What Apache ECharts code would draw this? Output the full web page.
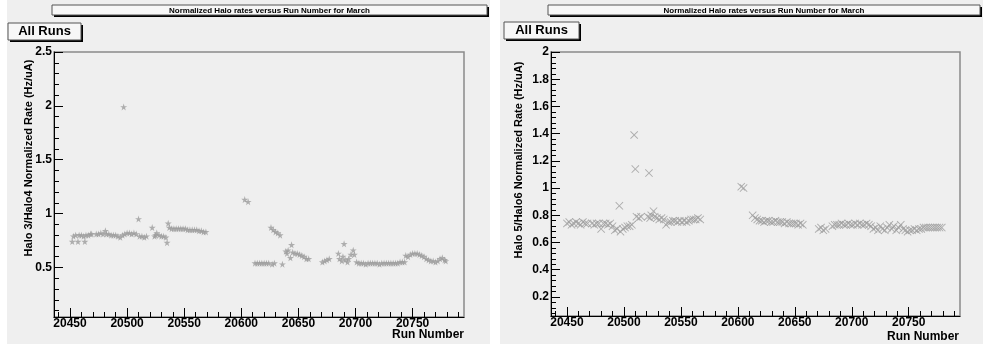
<!DOCTYPE html>
<html>
<head>
<meta charset="utf-8">
<script src="https://cdn.jsdelivr.net/npm/echarts@6/dist/echarts.min.js"></script>
<style>
  html, body { margin: 0; padding: 0; background: #fff; }
  #chart { width: 983px; height: 349px; }
</style>
</head>
<body>
<div id="chart"></div>
<script>
// run range shared by both panels
const runMin = 20436;
const runMax = 20795;
const runTicks = [20450, 20500, 20550, 20600, 20650, 20700, 20750];
const rate34Ticks = [0.5, 1, 1.5, 2, 2.5];
const rate56Ticks = [0.2, 0.4, 0.6, 0.8, 1, 1.2, 1.4, 1.6, 1.8, 2];

const titleText = 'Normalized Halo rates versus Run Number for March';
const panelLabel = 'All Runs';
const xName = 'Run Number';
const yName34 = 'Halo 3/Halo4 Normalized Rate (Hz/uA)';
const yName56 = 'Halo 5/Halo6 Normalized Rate (Hz/uA)';

// [run, rate]
const halo34 = [
  [20452,0.74],[20453,0.79],[20455,0.80],[20457,0.74],[20458,0.80],[20460,0.80],[20462,0.79],[20463,0.74],[20464,0.80],[20466,0.80],[20468,0.81],[20469,0.81],
  [20473,0.81],[20475,0.81],[20477,0.82],[20479,0.81],[20481,0.84],[20482,0.81],[20484,0.81],[20486,0.80],[20488,0.80],[20490,0.80],[20492,0.79],[20494,0.78],
  [20496,0.80],[20497,1.99],[20498,0.81],[20500,0.82],[20502,0.82],[20504,0.81],[20506,0.82],[20508,0.81],[20510,0.95],[20511,0.79],[20513,0.79],[20515,0.78],[20517,0.79],
  [20522,0.87],[20524,0.79],[20525,0.80],[20526,0.82],[20528,0.80],[20530,0.79],[20532,0.79],[20534,0.78],[20535,0.73],[20536,0.91],[20537,0.87],[20539,0.86],
  [20541,0.86],[20543,0.86],[20545,0.86],[20547,0.86],[20549,0.86],[20551,0.86],[20553,0.85],[20555,0.85],[20557,0.85],[20559,0.85],[20561,0.85],[20563,0.84],
  [20565,0.84],[20567,0.83],[20569,0.83],
  [20603,1.13],[20606,1.11],
  [20612,0.54],[20614,0.54],[20616,0.54],[20618,0.54],[20620,0.54],[20622,0.54],[20624,0.54],[20626,0.87],[20627,0.53],[20628,0.85],[20629,0.54],[20630,0.83],
  [20632,0.82],[20634,0.80],[20636,0.53],
  [20639,0.65],[20640,0.63],[20641,0.66],[20643,0.59],[20644,0.71],[20645,0.64],[20647,0.63],[20649,0.63],[20651,0.62],[20653,0.61],[20655,0.60],[20657,0.58],[20659,0.58],
  [20671,0.55],[20673,0.56],[20675,0.57],[20677,0.58],
  [20685,0.63],[20686,0.58],[20688,0.56],[20689,0.60],[20690,0.72],[20691,0.57],[20693,0.55],[20694,0.58],[20696,0.62],[20698,0.66],[20699,0.62],[20701,0.55],
  [20703,0.54],[20705,0.54],[20707,0.54],[20709,0.53],[20711,0.54],[20713,0.54],[20715,0.54],[20717,0.54],[20719,0.54],[20721,0.53],[20723,0.54],[20725,0.54],
  [20727,0.54],[20729,0.54],[20731,0.54],[20733,0.54],[20735,0.54],[20737,0.54],[20739,0.55],[20741,0.55],[20743,0.55],
  [20744,0.61],[20746,0.60],[20748,0.62],[20750,0.63],[20752,0.63],[20754,0.63],[20756,0.62],[20758,0.61],[20760,0.60],[20762,0.58],[20764,0.57],[20766,0.56],
  [20768,0.56],[20770,0.55],[20772,0.56],[20774,0.58],[20776,0.59],[20778,0.57],[20779,0.56]
];

const halo56 = [
  [20450,0.74],[20452,0.75],[20454,0.73],[20456,0.74],[20458,0.75],[20460,0.74],[20462,0.73],[20464,0.75],[20466,0.74],[20468,0.74],
  [20472,0.74],[20474,0.73],[20476,0.74],[20478,0.74],[20480,0.70],[20482,0.74],[20484,0.74],[20486,0.73],[20488,0.74],[20490,0.72],
  [20492,0.69],[20494,0.70],[20496,0.87],[20497,0.68],[20499,0.70],[20501,0.71],[20503,0.72],[20505,0.72],[20507,0.73],
  [20509,1.39],[20510,1.14],[20511,0.79],[20513,0.78],[20515,0.79],
  [20521,0.79],[20522,1.11],[20523,0.78],[20524,0.80],[20526,0.83],[20527,0.79],[20529,0.78],[20531,0.77],[20533,0.78],[20535,0.77],
  [20537,0.73],[20539,0.75],[20541,0.75],[20543,0.76],[20545,0.76],[20547,0.75],[20549,0.76],[20551,0.75],[20553,0.76],[20555,0.75],[20557,0.76],
  [20559,0.77],[20561,0.77],[20563,0.77],[20565,0.78],[20567,0.77],
  [20603,1.01],[20605,1.00],
  [20613,0.80],[20615,0.78],[20617,0.77],[20619,0.76],[20621,0.76],[20623,0.75],[20625,0.76],[20627,0.76],[20629,0.75],[20631,0.75],[20633,0.76],
  [20635,0.75],[20637,0.75],[20639,0.75],[20641,0.74],[20643,0.75],[20645,0.74],[20647,0.74],[20649,0.74],[20651,0.74],[20653,0.73],[20655,0.74],[20657,0.73],
  [20671,0.70],[20673,0.71],[20675,0.69],[20677,0.70],
  [20683,0.72],[20685,0.73],[20687,0.73],[20689,0.73],[20691,0.74],[20693,0.73],[20695,0.73],[20697,0.74],[20699,0.73],[20701,0.73],[20703,0.74],
  [20705,0.73],[20707,0.74],[20709,0.73],[20711,0.73],[20713,0.74],[20715,0.73],[20717,0.72],
  [20719,0.70],[20721,0.71],[20723,0.69],[20725,0.72],[20727,0.70],[20729,0.69],[20731,0.71],[20733,0.73],[20735,0.70],[20737,0.72],[20739,0.69],
  [20741,0.71],[20743,0.73],[20745,0.70],[20747,0.69],
  [20749,0.68],[20751,0.69],[20753,0.69],[20755,0.70],[20757,0.69],[20759,0.70],[20761,0.70],[20763,0.71],[20765,0.71],[20767,0.71],[20769,0.71],
  [20771,0.71],[20773,0.71],[20775,0.71],[20777,0.71],[20779,0.71]
];

// minor tick positions (axis decoration only)
function steps(from, to, step, digits) {
  const out = [];
  const n = Math.round((to - from) / step);
  for (let i = 0; i <= n; i++) out.push(+(from + i * step).toFixed(digits));
  return out;
}
const runMinor = steps(20440, 20790, 10, 0);
const rate34Minor = steps(0.1, 2.4, 0.1, 2);
const rate56Minor = steps(0.08, 1.96, 0.04, 2);

const FONT = 'Liberation Sans, Arial, Helvetica, sans-serif';
const markerColor = '#9c9c9c';
const starPath = 'path://M50,0 L61,35 L98,35 L68,57 L79,91 L50,70 L21,91 L32,57 L2,35 L39,35 Z';
const crossPath = 'path://M0,0.8 L0.8,0 L5,4.2 L9.2,0 L10,0.8 L5.8,5 L10,9.2 L9.2,10 L5,5.8 L0.8,10 L0,9.2 L4.2,5 Z';

function mainX(gridIndex) {
  return {
    type: 'value', gridIndex, min: runMin, max: runMax, position: 'bottom',
    axisLine: {show: true, onZero: false, lineStyle: {color: '#000', width: 1}},
    axisTick: {show: true, inside: true, length: 9, customValues: runTicks, lineStyle: {color: '#000'}},
    axisLabel: {customValues: runTicks, formatter: v => String(v), color: '#000',
      fontFamily: FONT, fontWeight: 'bold', fontSize: 12, margin: 1},
    splitLine: {show: false}
  };
}
function minorX(gridIndex) {
  return {
    type: 'value', gridIndex, min: runMin, max: runMax, position: 'bottom',
    axisLine: {show: false},
    axisTick: {show: true, inside: true, length: 5, customValues: runMinor, lineStyle: {color: '#000'}},
    axisLabel: {show: false},
    splitLine: {show: false}
  };
}
function mainY(gridIndex, min, max, ticks) {
  return {
    type: 'value', gridIndex, min, max, position: 'left',
    axisLine: {show: true, onZero: false, lineStyle: {color: '#000', width: 1}},
    axisTick: {show: true, inside: true, length: 9, customValues: ticks, lineStyle: {color: '#000'}},
    axisLabel: {customValues: ticks, color: '#000', fontFamily: FONT, fontWeight: 'bold', fontSize: 12, margin: 2},
    splitLine: {show: false}
  };
}
function minorY(gridIndex, min, max, ticks) {
  return {
    type: 'value', gridIndex, min, max, position: 'left',
    axisLine: {show: false},
    axisTick: {show: true, inside: true, length: 5, customValues: ticks, lineStyle: {color: '#000'}},
    axisLabel: {show: false},
    splitLine: {show: false}
  };
}

function boxWithShadow(x, y, w, h, text, font, cx, cy) {
  return [
    {type: 'rect', shape: {x: x + 2, y: y + 2, width: w, height: h}, style: {fill: '#000'}},
    {type: 'rect', shape: {x, y, width: w, height: h}, style: {fill: '#f7f7f7', stroke: '#555', lineWidth: 1}},
    {type: 'text', x: cx, y: cy, style: {text, font, fill: '#000', align: 'center', verticalAlign: 'middle'}}
  ];
}
function rotatedName(text, x, y) {
  return {type: 'text', x, y, rotation: Math.PI / 2,
    style: {text, font: 'bold 11px ' + FONT, fill: '#000', align: 'center', verticalAlign: 'middle'}};
}

const chart = echarts.init(document.getElementById('chart'));
chart.setOption({
  animation: false,
  backgroundColor: '#efefef',
  grid: [
    {left: 54, top: 52, width: 410, height: 265, show: true, borderColor: '#8a8a8a', borderWidth: 1.5, backgroundColor: 'transparent'},
    {left: 551, top: 52, width: 409, height: 264, show: true, borderColor: '#8a8a8a', borderWidth: 1.5, backgroundColor: 'transparent'}
  ],
  xAxis: [mainX(0), minorX(0), mainX(1), minorX(1)],
  yAxis: [
    mainY(0, 0.04, 2.5, rate34Ticks), minorY(0, 0.04, 2.5, rate34Minor),
    mainY(1, 0.06, 2, rate56Ticks), minorY(1, 0.06, 2, rate56Minor)
  ],
  graphic: [
    // page margins
    {type: 'rect', shape: {x: 0, y: 0, width: 7, height: 349}, style: {fill: '#fff'}},
    {type: 'rect', shape: {x: 490, y: 0, width: 10, height: 349}, style: {fill: '#fff'}},
    {type: 'rect', shape: {x: 0, y: 344, width: 983, height: 5}, style: {fill: '#fff'}},
    ...boxWithShadow(52, 5, 435, 10, titleText, 'bold 8px ' + FONT, 269.5, 10.5),
    ...boxWithShadow(8, 23, 73, 17, panelLabel, 'bold 13px ' + FONT, 44.5, 31.5),
    ...boxWithShadow(548, 5, 432, 10, titleText, 'bold 8px ' + FONT, 764, 10.5),
    ...boxWithShadow(504, 22, 75, 17, panelLabel, 'bold 13px ' + FONT, 541.5, 30.5),
    rotatedName(yName34, 29, 158),
    rotatedName(yName56, 519, 160),
    {type: 'text', x: 464, y: 335, style: {text: xName, font: 'bold 12px ' + FONT, fill: '#000', align: 'right', verticalAlign: 'middle'}},
    {type: 'text', x: 959, y: 337, style: {text: xName, font: 'bold 12px ' + FONT, fill: '#000', align: 'right', verticalAlign: 'middle'}}
  ],
  series: [
    {type: 'scatter', xAxisIndex: 0, yAxisIndex: 0, data: halo34, symbol: starPath, symbolSize: 7,
      itemStyle: {color: markerColor}, emphasis: {disabled: true}},
    {type: 'scatter', xAxisIndex: 2, yAxisIndex: 2, data: halo56, symbol: crossPath, symbolSize: 8,
      itemStyle: {color: markerColor}, emphasis: {disabled: true}}
  ]
});
</script>
</body>
</html>
